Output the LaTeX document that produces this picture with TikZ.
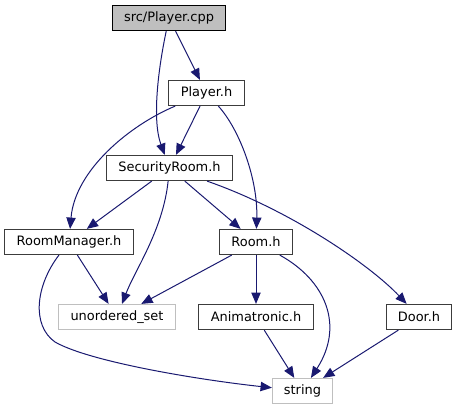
\documentclass[tikz,border=0pt]{standalone}
\usepackage{fontspec}
\setmainfont{DejaVu Sans}
\usetikzlibrary{arrows.meta}
\definecolor{edgeblue}{HTML}{191970}
\definecolor{nodeborder}{HTML}{3C3C3C}
\definecolor{extgray}{HTML}{BFBFBF}
\begin{document}
\begin{tikzpicture}[x=0.75pt,y=-0.75pt,
  box/.style={draw=nodeborder,line width=0.9pt,fill=white,inner sep=0pt,minimum height=18.75pt,font=\fontsize{9.7}{11}\selectfont},
  mainbox/.style={box,draw=black,fill=extgray},
  extbox/.style={box,draw=extgray},
  dep/.style={draw=edgeblue,line width=0.75pt,-{Triangle[length=8.5pt,width=7pt]}}]
\useasboundingbox (0,0) rectangle (457,411);
\node[mainbox,minimum width=84.75pt] (pcpp) at (169,18) {src/Player.cpp};
\node[box,minimum width=57pt] (ph) at (206.5,93) {Player.h};
\node[box,minimum width=94.5pt] (sec) at (169.5,168) {SecurityRoom.h};
\node[box,minimum width=96.75pt] (rm) at (69,242) {RoomManager.h};
\node[box,minimum width=54.75pt] (room) at (256,242) {Room.h};
\node[extbox,minimum width=87.75pt] (us) at (117,317) {unordered\_set};
\node[box,minimum width=86.25pt] (anim) at (256,317) {Animatronic.h};
\node[box,minimum width=48.75pt] (door) at (419,317) {Door.h};
\node[extbox,minimum width=45pt] (str) at (302.5,391) {string};

\draw[dep] (pcpp) -- (ph);
\draw[dep] (pcpp) .. controls (158,70) and (152,120) .. (sec);
\draw[dep] (ph) -- (sec);
\draw[dep] (ph) .. controls (130,125) and (75,170) .. (rm);
\draw[dep] (ph) .. controls (240,130) and (258,180) .. (room);
\draw[dep] (sec) -- (rm);
\draw[dep] (sec) .. controls (163,230) and (135,270) .. (us);
\draw[dep] (sec) -- (room);
\draw[dep] (sec) .. controls (290,210) and (370,265) .. (door);
\draw[dep] (rm) -- (us);
\coordinate (bend) at (55,342);
\draw[dep] (rm) .. controls (36,285) and (31,325) .. (bend) .. controls (90,362) and (200,380) .. (str);
\draw[dep] (room) -- (us);
\draw[dep] (room) -- (anim);
\draw[dep] (room) .. controls (325,280) and (345,325) .. (str);
\draw[dep] (anim) -- (str);
\draw[dep] (door) -- (str);
\end{tikzpicture}
\end{document}
